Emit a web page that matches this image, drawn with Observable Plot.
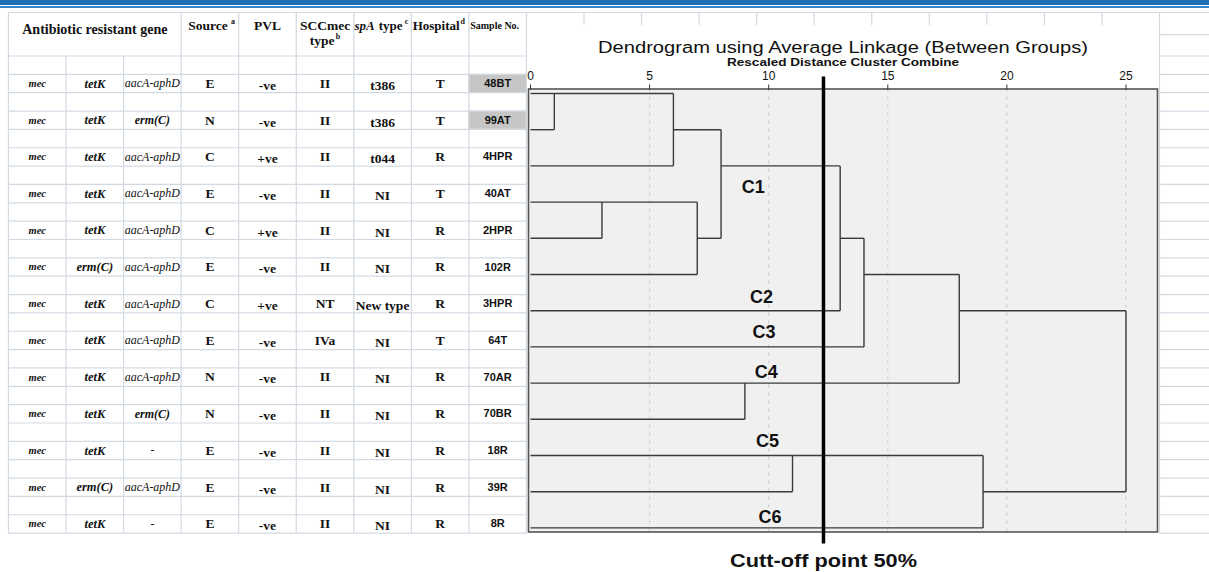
<!DOCTYPE html>
<html><head><meta charset="utf-8">
<script src="https://cdn.jsdelivr.net/npm/d3@7"></script>
<script src="https://cdn.jsdelivr.net/npm/@observablehq/plot@0.6"></script>
<style>
body{margin:0;background:#fff;}
#wrap{position:relative;width:1209px;height:572px;overflow:hidden;background:#fff;}
.bar1{position:absolute;left:0;top:0;width:1209px;height:4.5px;background:#1f6fb4;}
.bar2{position:absolute;left:0;top:6px;width:1209px;height:1.5px;background:#3488c9;}
#table{position:absolute;left:0;top:0;}
#dendro{position:absolute;left:527px;top:25px;}
svg text{fill:#111;}
</style></head>
<body><div id="wrap"><div id="table"></div><div id="dendro"></div><div class="bar1"></div><div class="bar2"></div></div>
<script>
// ---------- data ----------
const sampleNo = ["48BT","99AT","4HPR","40AT","2HPR","102R","3HPR","64T","70AR","70BR","18R","39R","8R"];
const geneMec  = ["mec","mec","mec","mec","mec","mec","mec","mec","mec","mec","mec","mec","mec"];
const geneTet  = ["tetK","tetK","tetK","tetK","tetK","erm(C)","tetK","tetK","tetK","tetK","tetK","erm(C)","tetK"];
const geneAac  = ["aacA-aphD","erm(C)","aacA-aphD","aacA-aphD","aacA-aphD","aacA-aphD","aacA-aphD","aacA-aphD","aacA-aphD","erm(C)","-","aacA-aphD","-"];
const source   = ["E","N","C","E","C","E","C","E","N","N","E","E","E"];
const pvl      = ["-ve","-ve","+ve","-ve","+ve","-ve","+ve","-ve","-ve","-ve","-ve","-ve","-ve"];
const sccmec   = ["II","II","II","II","II","II","NT","IVa","II","II","II","II","II"];
const spaType  = ["t386","t386","t044","NI","NI","NI","New type","NI","NI","NI","NI","NI","NI"];
const hospital = ["T","T","R","T","R","R","R","T","R","R","R","R","R"];
const highlighted = ["48BT","99AT"];

// dendrogram merges: node ids 0..12 are samples, merge k creates node 13+k
const mergeA      = [0, 13, 3, 15, 14, 17, 18, 8, 19, 10, 22, 21];
const mergeB      = [1, 2, 4, 5, 16, 6, 7, 9, 20, 11, 12, 23];
const mergeHeight = [1, 6, 3, 7, 8, 13, 14, 9, 18, 11, 19, 25];
const distTicks = [0, 5, 10, 15, 20, 25];
const cutoff = 12.3;
const clusterNames = ["C1","C2","C3","C4","C5","C6"];
const clusterX   = [9.35, 9.7, 9.8, 9.9, 9.95, 10.05];
const clusterRow = [2.6, 5.62, 6.6, 7.7, 9.6, 11.7];
const titleText = "Dendrogram using Average Linkage (Between Groups)";
const subtitleText = "Rescaled Distance Cluster Combine";
const cutoffText = "Cutt-off point 50%";

const SERIF = "Liberation Serif, Times New Roman, serif";
const SANS = "Liberation Sans, Arial, sans-serif";

// ---------- table (spreadsheet) ----------
const cols = [geneMec, geneTet, geneAac, source, pvl, sccmec, spaType, hospital, sampleNo];
const cells = [];
cols.forEach((arr, c) => arr.forEach((t, i) => cells.push({c, x: c + 0.5, y: 1.5 + 2 * i, text: t})));
const HEAD_TOP = -2.37, HEAD_MID = -1.17;
const gridRows = d3.range(0, 27);
const gridCols = d3.range(0, 21);
const hl = sampleNo.map((s, i) => ({s, i})).filter(d => highlighted.includes(d.s));
const sampleCol = 8;

const bold = {fontFamily: SERIF, fontWeight: "bold"};
const table = Plot.plot({
  width: 1209, height: 572,
  marginTop: 0, marginRight: 0, marginBottom: 0, marginLeft: 0,
  x: {type: "linear", domain: [0, 20], range: [8, 1159], axis: null},
  y: {type: "linear", domain: [0, 26], range: [55.5, 532.6], axis: null},
  style: {background: "transparent", overflow: "visible"},
  marks: [
    Plot.rect(hl, {x1: () => sampleCol, x2: () => sampleCol + 1, y1: d => 1 + 2 * d.i, y2: d => 2 + 2 * d.i, fill: "#c6c6c6"}),
    Plot.ruleY(gridRows, {x1: 0, x2: 21, stroke: "#d3d9e2", strokeWidth: 1.2}),
    Plot.ruleY([HEAD_TOP], {x1: 0, x2: 21, stroke: "#d3d9e2", strokeWidth: 1.2}),
    Plot.ruleY([HEAD_MID], {x1: 9, x2: 21, stroke: "#d3d9e2", strokeWidth: 1.2}),
    Plot.ruleX(gridCols.filter(c => c !== 1 && c !== 2), {y1: HEAD_TOP, y2: 26, stroke: "#d3d9e2", strokeWidth: 1.2}),
    Plot.ruleX([1, 2], {y1: 0, y2: 26, stroke: "#d3d9e2", strokeWidth: 1.2}),
    // header
    Plot.text(["Antibiotic resistant gene"], {x: () => 1.5, y: () => -1.44, ...bold, fontSize: 14}),
    Plot.text(["Source"], {x: () => 3.5, y: () => -1.66, dx: -2, ...bold, fontSize: 13.5}),
    Plot.text(["a"], {x: () => 3.5, y: () => -1.66, dx: 23, dy: -4, ...bold, fontSize: 8}),
    Plot.text(["PVL"], {x: () => 4.5, y: () => -1.66, ...bold, fontSize: 13.5}),
    Plot.text(["SCCmec"], {x: () => 5.5, y: () => -1.66, ...bold, fontSize: 13.5}),
    Plot.text(["type"], {x: () => 5.5, y: () => -0.85, dx: -3, ...bold, fontSize: 13.5}),
    Plot.text(["b"], {x: () => 5.5, y: () => -0.85, dx: 13, dy: -4, ...bold, fontSize: 8}),
    Plot.text(["spA"], {x: () => 6.5, y: () => -1.66, dx: -18, ...bold, fontStyle: "italic", fontSize: 13}),
    Plot.text(["type"], {x: () => 6.5, y: () => -1.66, dx: 8, ...bold, fontSize: 13}),
    Plot.text(["c"], {x: () => 6.5, y: () => -1.66, dx: 24, dy: -4, ...bold, fontSize: 8}),
    Plot.text(["Hospital"], {x: () => 7.5, y: () => -1.66, dx: -4, ...bold, fontSize: 13}),
    Plot.text(["d"], {x: () => 7.5, y: () => -1.66, dx: 22.5, dy: -4, ...bold, fontSize: 8}),
    Plot.text(["Sample No."], {x: () => 8.5, y: () => -1.66, dx: -3, ...bold, fontSize: 10}),
    // body
    Plot.text(cells.filter(d => d.c === 0), {x: "x", y: "y", text: "text", ...bold, fontStyle: "italic", fontSize: 10.5}),
    Plot.text(cells.filter(d => d.c === 1), {x: "x", y: "y", text: "text", ...bold, fontStyle: "italic", fontSize: 12.5}),
    Plot.text(cells.filter(d => d.c === 2 && d.text === "aacA-aphD"), {x: "x", y: "y", text: "text", fontFamily: SERIF, fontStyle: "italic", fontSize: 12}),
    Plot.text(cells.filter(d => d.c === 2 && d.text === "erm(C)"), {x: "x", y: "y", text: "text", ...bold, fontStyle: "italic", fontSize: 12}),
    Plot.text(cells.filter(d => d.c === 2 && d.text === "-"), {x: "x", y: "y", text: "text", fontFamily: SERIF, fontSize: 12, fill: "#777"}),
    Plot.text(cells.filter(d => d.c === 3 || d.c === 5 || d.c === 7), {x: "x", y: "y", text: "text", ...bold, fontSize: 13.5}),
    Plot.text(cells.filter(d => d.c === 4 || d.c === 6), {x: "x", y: "y", text: "text", dy: 2, ...bold, fontSize: 13.5}),
    Plot.text(cells.filter(d => d.c === 8), {x: "x", y: "y", text: "text", fontFamily: SANS, fontWeight: "bold", fontSize: 11})
  ]
});
document.getElementById("table").appendChild(table);

// ---------- dendrogram ----------
const nodes = sampleNo.map((s, i) => ({pos: i, h: 0}));
const segs = [];
mergeA.forEach((a, k) => {
  const A = nodes[a], B = nodes[mergeB[k]], h = mergeHeight[k];
  segs.push({x1: A.h, x2: h, y1: A.pos, y2: A.pos});
  segs.push({x1: B.h, x2: h, y1: B.pos, y2: B.pos});
  segs.push({x1: h, x2: h, y1: A.pos, y2: B.pos});
  nodes.push({pos: Math.floor((A.pos + B.pos) / 2), h});
});
const clusters = clusterNames.map((n, i) => ({n, x: clusterX[i], y: clusterRow[i]}));

const dendro = Plot.plot({
  width: 632, height: 547,
  marginLeft: 1, marginRight: 2, marginTop: 63.5, marginBottom: 40.5,
  x: {type: "linear", domain: [0, 25], range: [3, 598.5], axis: null},
  y: {type: "linear", domain: [0, 12], range: [68, 502.4], axis: null},
  style: {background: "#fff", overflow: "visible", fontFamily: SANS},
  marks: [
    Plot.frame({fill: "#f0f0f0", stroke: null}),
    Plot.ruleX(distTicks.filter(t => t > 0), {stroke: "#c8c8c8", strokeDasharray: "3,5"}),
    Plot.frame({stroke: "#555", strokeWidth: 1.6}),
    Plot.link(segs, {x1: "x1", x2: "x2", y1: "y1", y2: "y2", stroke: "#3a3a3a", strokeWidth: 1.4}),
    Plot.axisX(distTicks, {anchor: "top", tickSize: 5, tickPadding: 4, fontSize: 12, fontFamily: SANS, stroke: "#333"}),
    Plot.ruleX([cutoff], {stroke: "#000", strokeWidth: 3.5, insetTop: -12, insetBottom: -12}),
    Plot.text(clusters, {x: "x", y: "y", text: "n", fontFamily: SANS, fontWeight: "bold", fontSize: 18}),
    Plot.text([cutoffText], {x: () => cutoff, frameAnchor: "bottom", lineAnchor: "middle", dy: 29, fontFamily: SANS, fontWeight: "bold", fontSize: 18}),
    Plot.text([titleText], {frameAnchor: "top", lineAnchor: "middle", dy: -41.5, fontFamily: SANS, fontSize: 16}),
    Plot.text([subtitleText], {frameAnchor: "top", lineAnchor: "middle", dy: -27, fontFamily: SANS, fontWeight: "bold", fontSize: 11.5})
  ]
});
// the pasted dendrogram picture is stretched horizontally: widen its texts to match
const stretch = {[titleText]: 490, [subtitleText]: 232, [cutoffText]: 187};
d3.select(dendro).selectAll("text").each(function () {
  const w = stretch[this.textContent];
  if (w) d3.select(this).attr("textLength", w).attr("lengthAdjust", "spacingAndGlyphs");
});
document.getElementById("dendro").appendChild(dendro);
</script></body></html>
